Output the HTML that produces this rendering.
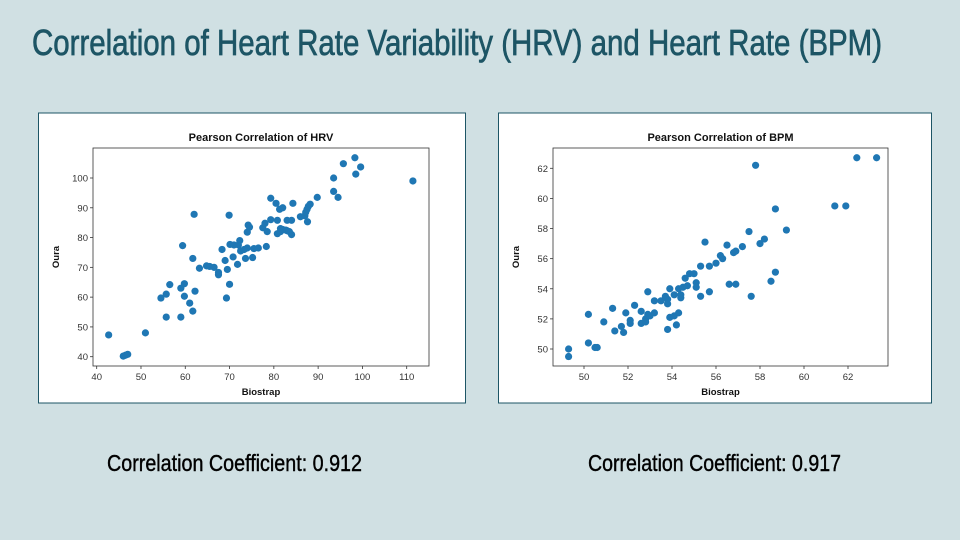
<!DOCTYPE html>
<html><head><meta charset="utf-8"><style>
body{margin:0;width:960px;height:540px;background:#d0e0e3;position:relative;overflow:hidden;font-family:"Liberation Sans",sans-serif}
#title{position:absolute;left:32px;top:22px;font-family:"Liberation Sans Narrow","Liberation Sans",sans-serif;font-size:36px;color:#1d5565;white-space:nowrap;transform-origin:0 0;-webkit-text-stroke:0.7px #1d5565}
.coef{position:absolute;top:450px;font-family:"Liberation Sans Narrow","Liberation Sans",sans-serif;font-size:23px;color:#000;white-space:nowrap;transform-origin:0 0;-webkit-text-stroke:0.4px #000}
svg{position:absolute;left:0;top:0}
</style></head><body>
<div id="title">Correlation of Heart Rate Variability (HRV) and Heart Rate (BPM)</div>
<div class="coef" id="c1" style="left:107px">Correlation Coefficient: 0.912</div>
<div class="coef" id="c2" style="left:588px">Correlation Coefficient: 0.917</div>
<svg id="svg" width="960" height="540"></svg>
<script>
const hrvX=[42.7,46,46.5,47,51,54.5,55.7,55.7,56.5,59,59,59.4,59.8,59.8,61,61.7,61.7,62,62.2,63.2,64.8,65.5,66.5,67.5,67.5,68.3,69,69.3,69.5,69.9,70,70.1,70.8,71,71.8,72,72.3,72.5,73.3,73.6,74,74,74.2,74.5,75.2,75.5,76.5,77.5,78,78.3,78.5,79.3,79.3,80.5,80.8,80.8,81.3,81.5,82,81.5,82,82.7,83,83,83.5,84,84,84.3,86,87,87.2,87.6,87.5,87.8,88.2,89.8,93.5,93.5,94.5,95.7,98.3,98.5,99.6,111.4];
const hrvY=[47.3,40.2,40.5,40.8,48,59.7,53.3,61,64.2,63,53.3,77.3,64.5,60.3,58,55.3,73,87.8,62,69.7,70.5,70.3,70,67.5,68.3,76,72.3,59.7,69.3,87.5,64.3,77.7,73.5,77.5,71,77.5,79,75.5,76,73,76.5,81.8,84.2,83.5,73.3,76.3,76.5,83.3,84.8,77,82,86,93.2,91.5,81.3,85.8,89.5,83,90,82,82.7,82.5,85.8,82.3,82,85.8,81,91.5,87,87.3,88.5,85.3,89.5,90.5,91.2,93.5,100,95.5,93.5,104.8,106.8,101.3,103.7,99];
const hrvXTicks=[40,50,60,70,80,90,100,110];
const hrvYTicks=[40,50,60,70,80,90,100];
const bpmX=[49.3,49.3,50.2,50.2,50.5,50.6,50.9,51.3,51.4,51.7,51.8,51.9,52.1,52.1,52.3,52.6,52.6,52.8,52.8,52.9,52.9,53,53.2,53.2,53.5,53.7,53.8,53.8,53.9,53.8,53.9,54.1,54.1,54.2,54.3,54.3,54.4,54.4,54.5,54.6,54.7,54.8,55,55.1,55.1,55.3,55.3,55.5,55.7,55.7,56,56.2,56.3,56.5,56.6,56.8,56.9,56.9,57.2,57.5,57.6,57.8,58,58.2,58.5,58.7,58.7,59.2,61.4,61.9,62.4,63.3];
const bpmY=[50,49.5,50.4,52.3,50.1,50.1,51.8,52.7,51.2,51.5,51.1,52.4,51.9,51.7,52.9,52.5,51.7,52,51.8,53.8,52.3,52.2,52.4,53.2,53.2,53.5,53.3,53,54,51.3,52.1,52.2,53.6,51.6,52.4,54,53.4,53.6,54.1,54.7,54.2,55,55,54.4,54.1,55.5,53.5,57.1,53.8,55.5,55.7,56.2,56,56.9,54.3,56.4,56.5,54.3,56.8,57.8,53.5,62.2,57,57.3,54.5,59.3,55.1,57.9,59.5,59.5,62.7,62.7];
const bpmXTicks=[50,52,54,56,58,60,62];
const bpmYTicks=[50,52,54,56,58,60,62];
const NS="http://www.w3.org/2000/svg";
const svg=document.getElementById('svg');
function mk(t,a,p){const e=document.createElementNS(NS,t);for(const k in a)e.setAttribute(k,a[k]);(p||svg).appendChild(e);return e;}
function chart(o){
  const g=mk('g',{});
  
  
  const fr=mk('rect',{x:o.fx,y:113,width:o.fw,height:290,fill:'#fff',stroke:'#1d5565','stroke-width':1},g);
  
  
  const sx=v=>o.x0+(v-o.xa)*(o.x1-o.x0)/(o.xb-o.xa);
  const sy=v=>o.y0+(v-o.ya)*(o.y1-o.y0)/(o.yb-o.ya);
  const t=mk('text',{x:(o.L+o.R)/2,y:141,'text-anchor':'middle','font-size':11,'font-weight':'bold',fill:'#111'},g);
  t.textContent=o.title;
  
  
  o.xt.forEach(v=>{const x=sx(v);mk('line',{x1:x,x2:x,y1:366,y2:369,stroke:'#333','stroke-width':0.8},g);
    const l=mk('text',{x:x,y:380,'text-anchor':'middle','font-size':9.5,fill:'#333'},g);l.textContent=v;
    
    });
  o.yt.forEach(v=>{const y=sy(v);mk('line',{x1:o.L-3,x2:o.L,y1:y,y2:y,stroke:'#333','stroke-width':0.8},g);
    const l=mk('text',{x:o.L-5,y:y+3.5,'text-anchor':'end','font-size':9.5,fill:'#333'},g);l.textContent=v;
    
    });
  const xl=mk('text',{x:(o.L+o.R)/2,y:395,'text-anchor':'middle','font-size':9.5,'font-weight':'bold',fill:'#111'},g);xl.textContent='Biostrap';
  
  
  const yl=mk('text',{x:0,y:0,'text-anchor':'middle','font-size':9.5,'font-weight':'bold',fill:'#111',transform:`translate(${o.L-34},257) rotate(-90)`},g);yl.textContent='Oura';
  
  
  o.X.forEach((v,i)=>{const c=mk('circle',{cx:sx(v),cy:sy(o.Y[i]),r:3.6,fill:'#1f77b4'},g);
    
    });
  mk('rect',{x:o.L,y:148,width:o.R-o.L,height:218,fill:'none',stroke:'#333','stroke-width':0.8},g);
}
chart({name:'hrv-chart',title:'Pearson Correlation of HRV',fx:38.5,fw:427,L:93,R:429,x0:96.7,x1:406.7,xa:40,xb:110,y0:356.7,y1:178,ya:40,yb:100,X:hrvX,Y:hrvY,xt:hrvXTicks,yt:hrvYTicks});
chart({name:'bpm-chart',title:'Pearson Correlation of BPM',fx:498.5,fw:433,L:553,R:888,x0:584,x1:848,xa:50,xb:62,y0:349,y1:168.3,ya:50,yb:62,X:bpmX,Y:bpmY,xt:bpmXTicks,yt:bpmYTicks});
function fit(id,w){const e=document.getElementById(id);const r=e.getBoundingClientRect().width;e.style.transform=`scaleX(${w/r})`;}
fit('title',850);fit('c1',255);fit('c2',253);
</script>
</body></html>
